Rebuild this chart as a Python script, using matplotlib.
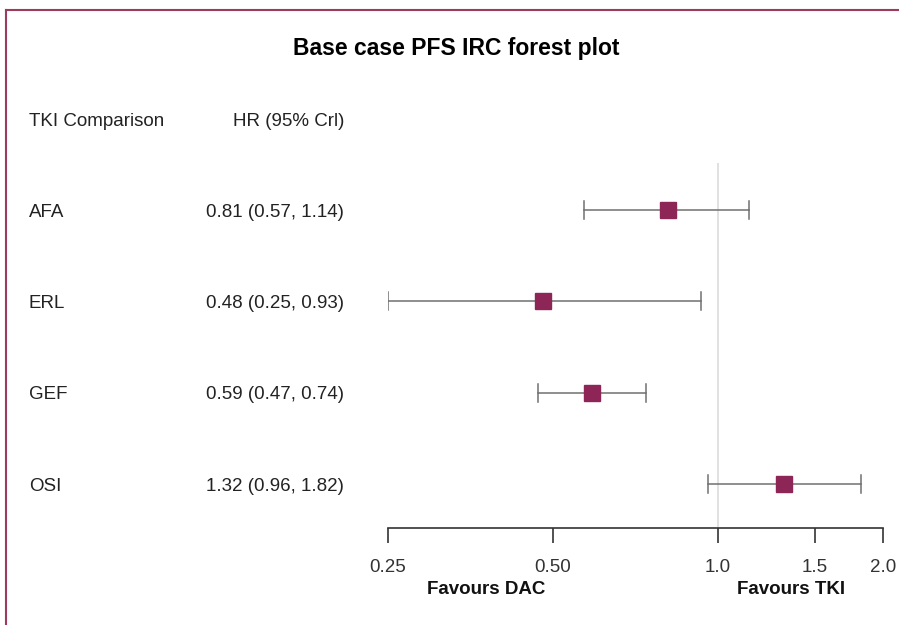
import matplotlib.pyplot as plt
import matplotlib.transforms as mtransforms
from matplotlib.lines import Line2D

plt.rcParams['font.family'] = ['Liberation Sans', 'DejaVu Sans']

comparisons = ['AFA', 'ERL', 'GEF', 'OSI']
hr = [0.81, 0.48, 0.59, 1.32]
lower = [0.57, 0.25, 0.47, 0.96]
upper = [1.14, 0.93, 0.74, 1.82]
hr_labels = ['0.81 (0.57, 1.14)', '0.48 (0.25, 0.93)', '0.59 (0.47, 0.74)', '1.32 (0.96, 1.82)']
xticks = [0.25, 0.5, 1.0, 1.5, 2.0]
xtick_labels = ['0.25', '0.50', '1.0', '1.5', '2.0']

W, H = 899, 625
fig = plt.figure(figsize=(W / 100, H / 100), dpi=100)

# plot area in pixels: x 388..883, y 163..528 (from top)
ax = fig.add_axes([388 / W, 1 - 528 / H, (883 - 388) / W, (528 - 163) / H])
ax.set_xscale('log')
ax.set_xlim(0.25, 2.0)
ax.set_ylim(0.518, 4.515)

ypos = [4, 3, 2, 1]

ax.axvline(1.0, color='#dcdcdc', lw=1.2, zorder=1)

for y, m, lo, hi in zip(ypos, hr, lower, upper):
    ax.plot([lo, hi], [y, y], color='#707070', lw=1.1, zorder=2)
    ax.plot([lo, lo], [y - 0.1, y + 0.1], color='#707070', lw=1.1, zorder=2)
    ax.plot([hi, hi], [y - 0.1, y + 0.1], color='#707070', lw=1.1, zorder=2)
    ax.plot(m, y, marker='s', ms=11, color='#8e2557', mec='#8e2557', zorder=3)

for s in ['top', 'right', 'left']:
    ax.spines[s].set_visible(False)
ax.spines['bottom'].set_color('#333333')
ax.spines['bottom'].set_linewidth(1.2)
ax.set_yticks([])
ax.set_xticks(xticks)
ax.set_xticklabels(xtick_labels)
ax.minorticks_off()
ax.tick_params(axis='x', length=11, width=1.2, color='#333333', labelsize=13.5,
               labelcolor='#333333', pad=11)

# left columns
trans = mtransforms.blended_transform_factory(fig.transFigure, ax.transData)
for y, name, lab in zip(ypos, comparisons, hr_labels):
    ax.text(29 / W, y - 0.025, name, transform=trans, ha='left', va='center', fontsize=13.5,
            color='#222222', clip_on=False)
    ax.text(344 / W, y - 0.025, lab, transform=trans, ha='right', va='center', fontsize=13.5,
            color='#222222', clip_on=False)

fig.text(29 / W, 1 - 122 / H, 'TKI Comparison', ha='left', va='center', fontsize=13.5, color='#222222')
fig.text(344 / W, 1 - 122 / H, 'HR (95% Crl)', ha='right', va='center', fontsize=13.5, color='#222222')

fig.text(456 / W, 1 - 49 / H, 'Base case PFS IRC forest plot', ha='center', va='center',
         fontsize=16.5, fontweight='bold', color='black')

trans2 = mtransforms.blended_transform_factory(ax.transData, fig.transFigure)
ax.text(0.377, 1 - 590 / H, 'Favours DAC', transform=trans2, ha='center', va='center',
        fontsize=13.5, fontweight='bold', color='#111111', clip_on=False)
ax.text(1.36, 1 - 590 / H, 'Favours TKI', transform=trans2, ha='center', va='center',
        fontsize=13.5, fontweight='bold', color='#111111', clip_on=False)

# outer frame (top and left edges)
frame_col = '#9c3a60'
fig.add_artist(Line2D([6 / W, 1], [1 - 10 / H, 1 - 10 / H], transform=fig.transFigure,
                      color=frame_col, lw=1.5))
fig.add_artist(Line2D([6 / W, 6 / W], [0, 1 - 10 / H], transform=fig.transFigure,
                      color=frame_col, lw=1.5))

fig.savefig('out.png', dpi=100)
